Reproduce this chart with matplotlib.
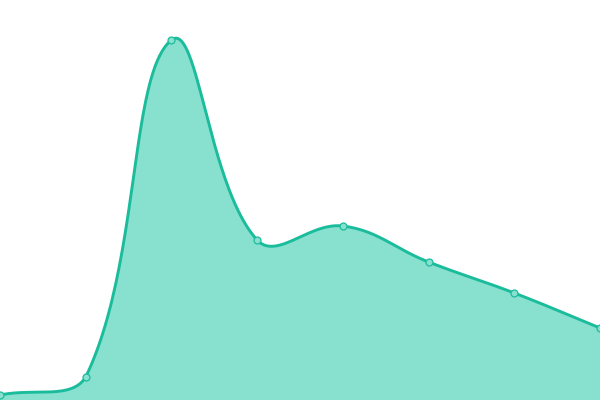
import matplotlib
matplotlib.use("Agg")
import matplotlib.pyplot as plt
import numpy as np

# values (height above the bottom edge, 400 = top)
categories = ["1", "2", "3", "4", "5", "6", "7", "8"]
values = [5, 23, 360, 160, 174, 138, 107, 72]

line_color = "#1abc9c"
fill_color = "#88e0cf"

X_MAX, Y_MAX = 600, 400


def spline_path(xs, ys, tension=0.4, n=50):
    """Tension spline (distance weighted) with control points
    capped to the plot area, the way chart.js draws a line."""
    pts = np.column_stack([xs, ys]).astype(float)
    lo, hi = np.array([0.0, 0.0]), np.array([X_MAX, Y_MAX], dtype=float)
    last = len(pts) - 1
    cps = []
    for i, p in enumerate(pts):
        prev = pts[i - 1] if i > 0 else p
        nxt = pts[i + 1] if i < last else p
        d01 = np.hypot(*(p - prev))
        d12 = np.hypot(*(nxt - p))
        tot = d01 + d12
        s01 = d01 / tot if tot else 0
        s12 = d12 / tot if tot else 0
        vec = nxt - prev
        c_in = np.clip(p - tension * s01 * vec, lo, hi)
        c_out = np.clip(p + tension * s12 * vec, lo, hi)
        cps.append((c_in, c_out))
    t = np.linspace(0, 1, n)[:, None]
    out = [pts[:1]]
    for i in range(last):
        a, b = pts[i], pts[i + 1]
        c1, c2 = cps[i][1], cps[i + 1][0]
        seg = ((1 - t) ** 3) * a + 3 * ((1 - t) ** 2) * t * c1 + 3 * (1 - t) * t ** 2 * c2 + t ** 3 * b
        out.append(seg[1:])
    res = np.vstack(out)
    return res[:, 0], res[:, 1]


fig = plt.figure(figsize=(6, 4), dpi=100)
ax = fig.add_axes([0, 0, 1, 1])
ax.set_xlim(0, X_MAX)
ax.set_ylim(0, Y_MAX)

xs = np.arange(len(categories)) * X_MAX / (len(categories) - 1)
sx, sy = spline_path(xs, values)

ax.fill_between(sx, sy, 0, color=fill_color, lw=0)
ax.plot(sx, sy, color=line_color, lw=2.1, solid_capstyle="round")
ax.plot(xs, values, "o", ms=5, mfc=fill_color, mec=line_color, mew=0.9)

ax.axis("off")
fig.savefig("out.png", dpi=100, facecolor="white")
